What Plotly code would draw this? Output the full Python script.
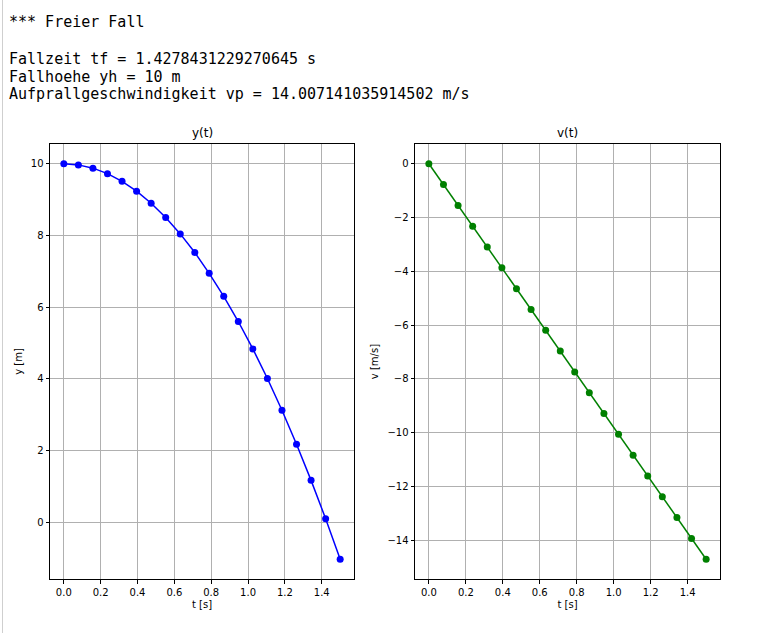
import plotly.graph_objects as go

W, H = 783, 633

# ---- data ----
t_vals = [0.0, 0.079, 0.158, 0.237, 0.316, 0.395, 0.474, 0.553, 0.632, 0.711,
          0.789, 0.868, 0.947, 1.026, 1.105, 1.184, 1.263, 1.342, 1.421, 1.5]
y_vals = [10.0, 9.969, 9.878, 9.725, 9.511, 9.236, 8.899, 8.502, 8.043, 7.524,
          6.943, 6.301, 5.598, 4.833, 4.008, 3.121, 2.174, 1.165, 0.095, -1.036]
v_vals = [0.0, -0.774, -1.549, -2.323, -3.098, -3.872, -4.647, -5.421, -6.196, -6.970,
          -7.745, -8.519, -9.294, -10.068, -10.843, -11.617, -12.392, -13.166, -13.941, -14.715]

header_lines = [
    "*** Freier Fall",
    "Fallzeit tf = 1.4278431229270645 s",
    "Fallhoehe yh = 10 m",
    "Aufprallgeschwindigkeit vp = 14.007141035914502 m/s",
]
header_y_px = [22, 59, 77, 94]

titles = ["y(t)", "v(t)"]
x_label = "t [s]"
y_labels = ["y [m]", "v [m/s]"]


def px_x(p):
    return p / W


def px_y(p):
    return 1 - p / H


fig = go.Figure()
fig.add_trace(go.Scatter(x=t_vals, y=y_vals, mode="lines+markers",
                         line=dict(color="#0000ff", width=1.5),
                         marker=dict(color="#0000ff", size=7),
                         xaxis="x", yaxis="y", showlegend=False))
fig.add_trace(go.Scatter(x=t_vals, y=v_vals, mode="lines+markers",
                         line=dict(color="#008000", width=1.5),
                         marker=dict(color="#008000", size=7),
                         xaxis="x2", yaxis="y2", showlegend=False))

tick_font = dict(family="DejaVu Sans", size=10, color="#000")
common = dict(showgrid=True, gridcolor="#b0b0b0", gridwidth=0.8, zeroline=False,
              showline=True, linecolor="#000", linewidth=1, mirror=True,
              ticks="outside", ticklen=3.5, tickwidth=0.8, tickcolor="#000",
              tickfont=tick_font)
title_font = dict(family="DejaVu Sans", size=10, color="#000")

ydom = [px_y(579), px_y(144)]
fig.update_layout(
    width=W, height=H,
    margin=dict(l=0, r=0, t=0, b=0),
    paper_bgcolor="white", plot_bgcolor="white",
    xaxis=dict(domain=[px_x(50), px_x(354)], range=[-0.075, 1.575], dtick=0.2,
               tickformat=".1f", anchor="y",
               title=dict(text=x_label, font=title_font, standoff=4), **common),
    yaxis=dict(domain=ydom, range=[-1.588, 10.552], dtick=2, anchor="x",
               title=dict(text=y_labels[0], font=title_font, standoff=6), **common),
    xaxis2=dict(domain=[px_x(415), px_x(720)], range=[-0.075, 1.575], dtick=0.2,
                tickformat=".1f", anchor="y2",
                title=dict(text=x_label, font=title_font, standoff=4), **common),
    yaxis2=dict(domain=ydom, range=[-15.451, 0.736], dtick=2, anchor="x2",
                title=dict(text=y_labels[1], font=title_font, standoff=6), **common),
)

annotations = []
for txt, yp in zip(header_lines, header_y_px):
    annotations.append(dict(text=txt, x=px_x(7), y=px_y(yp), xref="paper", yref="paper",
                            xanchor="left", yanchor="middle", showarrow=False,
                            font=dict(family="DejaVu Sans Mono", size=15, color="#000")))
for ttl, cx in zip(titles, [(50 + 354) / 2, (415 + 720) / 2]):
    annotations.append(dict(text=ttl, x=px_x(cx), y=px_y(133), xref="paper", yref="paper",
                            xanchor="center", yanchor="middle", showarrow=False,
                            font=dict(family="DejaVu Sans", size=12, color="#000")))
fig.update_layout(annotations=annotations)

fig.add_shape(type="line", xref="paper", yref="paper",
              x0=px_x(2.5), x1=px_x(2.5), y0=0, y1=1,
              line=dict(color="#cfcfcf", width=1))

fig.write_html("out.html", config={"displayModeBar": False},
               post_script="document.body.style.margin='0';document.body.style.padding='0';")
